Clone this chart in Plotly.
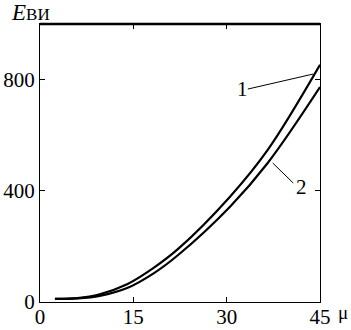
import plotly.graph_objects as go

# Data
mu_1 = [2.4, 6.0, 9.6, 14.0, 18.2, 22.2, 30.5, 36.6, 45.0]
E_1 = [11, 14, 28, 64, 122, 191, 378, 547, 853]
mu_2 = [2.4, 6.0, 9.6, 14.0, 18.2, 22.2, 30.5, 36.6, 45.0]
E_2 = [11, 13, 22, 50, 102, 169, 342, 500, 773]

x_ticks = [0, 15, 30, 45]
y_ticks = [0, 400, 800]

FONT = "Times New Roman, Liberation Serif, serif"

W, H = 351, 330
L, R, T, B = 40, 31, 24, 28
PW, PH = W - L - R, H - T - B

fig = go.Figure()
for mu, E in ((mu_1, E_1), (mu_2, E_2)):
    fig.add_trace(go.Scatter(x=mu, y=E, mode="lines",
                             line=dict(color="black", width=2.2, shape="spline", smoothing=1.0),
                             showlegend=False, hoverinfo="skip", cliponaxis=False))

axis_common = dict(showgrid=False, zeroline=False, showline=True, linecolor="black",
                   linewidth=1.3, mirror="ticks", ticks="inside", ticklen=5,
                   tickwidth=1.3, tickcolor="black", automargin=False,
                   tickfont=dict(family=FONT, size=21, color="black"))

fig.update_xaxes(range=[0, 45], tickvals=x_ticks, ticktext=[str(v) for v in x_ticks],
                 ticklabelstandoff=-4, **axis_common)
fig.update_yaxes(range=[0, 1000], tickvals=y_ticks, ticktext=[str(v) for v in y_ticks],
                 ticklabelstandoff=0, **axis_common)

# thicker top frame line
fig.add_shape(type="line", xref="paper", yref="paper", x0=0, x1=1, y0=1, y1=1,
              line=dict(color="black", width=2.5))

# curve labels with leader lines
fig.add_shape(type="line", x0=33.4, y0=766, x1=43.9, y1=820, line=dict(color="black", width=1))
fig.add_shape(type="line", x0=40.7, y0=428, x1=37.4, y1=500, line=dict(color="black", width=1))
fig.add_annotation(x=32.5, y=766, text="1", showarrow=False,
                   font=dict(family=FONT, size=21, color="black"))
fig.add_annotation(x=42.1, y=414, text="2", showarrow=False,
                   font=dict(family=FONT, size=21, color="black"))

# axis titles
fig.add_annotation(xref="paper", yref="paper", x=-31 / PW, y=1 + 12 / PH,
                   xanchor="left", yanchor="middle", showarrow=False,
                   text="<i>E</i><span style='font-size:17px'>ВИ</span>",
                   font=dict(family=FONT, size=23, color="black"))
fig.add_annotation(xref="paper", yref="paper", x=1 + 23 / PW, y=2 / PH,
                   xanchor="center", yanchor="top", showarrow=False,
                   text="μ", font=dict(family=FONT, size=19, color="black"))

fig.update_layout(width=W, height=H, margin=dict(l=L, r=R, t=T, b=B),
                  paper_bgcolor="white", plot_bgcolor="white")

fig.write_html("out.html", config={"displayModeBar": False},
               post_script="document.body.style.margin='0';")
